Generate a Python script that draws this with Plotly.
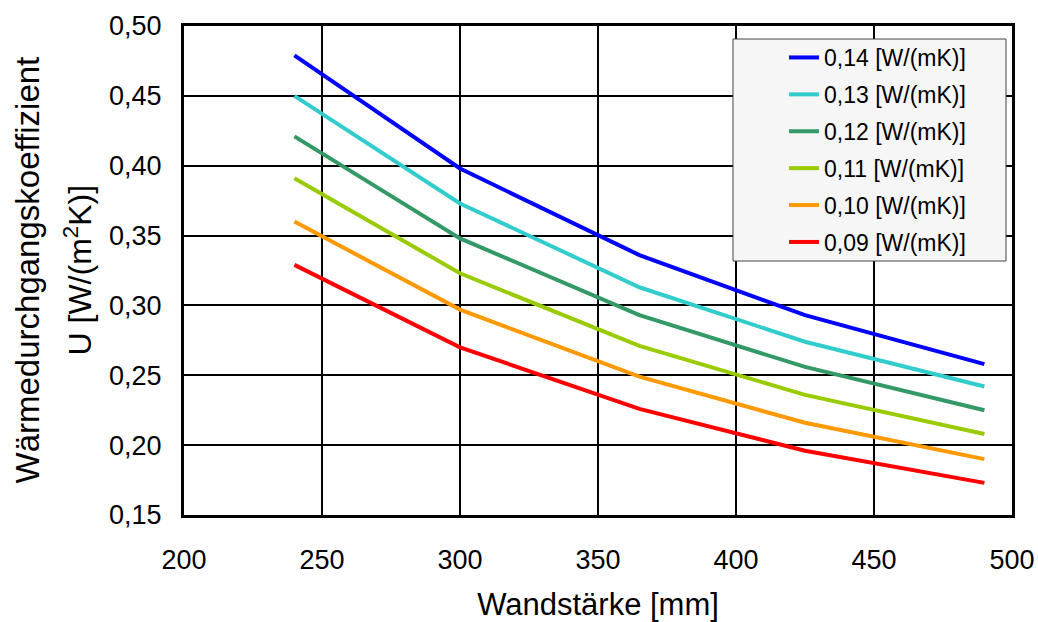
import plotly.graph_objects as go

wandstaerke = [240, 300, 365, 425, 490]
names = ["0,14 [W/(mK)]", "0,13 [W/(mK)]", "0,12 [W/(mK)]",
         "0,11 [W/(mK)]", "0,10 [W/(mK)]", "0,09 [W/(mK)]"]
u_014 = [0.479, 0.398, 0.336, 0.293, 0.258]
u_013 = [0.450, 0.373, 0.313, 0.274, 0.242]
u_012 = [0.421, 0.348, 0.293, 0.256, 0.225]
u_011 = [0.391, 0.323, 0.271, 0.236, 0.208]
u_010 = [0.360, 0.297, 0.249, 0.216, 0.190]
u_009 = [0.329, 0.270, 0.226, 0.196, 0.173]
series = [u_014, u_013, u_012, u_011, u_010, u_009]
colors = ["#0000FF", "#33CCCC", "#339966", "#99CC00", "#FF9900", "#FF0000"]

W, H = 1038, 622
L, R, T, B = 184, 26, 26, 107
pw, ph = W - L - R, H - T - B


def px_x(p):  # page pixel -> paper coordinate
    return (p - L) / pw


def px_y(p):
    return (H - B - p) / ph


fig = go.Figure()
for i, (n, ys, c) in enumerate(zip(names, series, colors)):
    fig.add_trace(go.Scatter(x=wandstaerke, y=ys, name=n, mode="lines",
                             legendgroup=f"g{i}",
                             line=dict(color=c, width=4)))

font = "Liberation Sans, Arial, sans-serif"
fig.update_layout(
    width=W, height=H,
    margin=dict(l=L, r=R, t=T, b=B),
    plot_bgcolor="white", paper_bgcolor="white",
    separators=",.",
    font=dict(family=font, color="black", size=22),
    showlegend=True,
    legend=dict(x=px_x(784), y=px_y(36), xanchor="left", yanchor="top",
                bgcolor="rgba(0,0,0,0)", borderwidth=0,
                font=dict(size=23), tracegroupgap=4),
    shapes=[dict(type="rect", xref="paper", yref="paper",
                 x0=px_x(733), x1=px_x(1006), y0=px_y(261), y1=px_y(39),
                 fillcolor="#f6f6f6", line=dict(color="#444444", width=1),
                 layer="above")],
    annotations=[
        dict(text="Wärmedurchgangskoeffizient", textangle=-90,
             xref="paper", yref="paper", x=px_x(27), y=0.5,
             xanchor="center", yanchor="middle", showarrow=False,
             font=dict(size=33)),
        dict(text="U [W/(m<sup>2</sup>K)]", textangle=-90,
             xref="paper", yref="paper", x=px_x(77), y=0.5,
             xanchor="center", yanchor="middle", showarrow=False,
             font=dict(size=32)),
    ],
    xaxis=dict(range=[200, 500], dtick=50, tick0=200, automargin=False,
               showgrid=True, gridcolor="black", gridwidth=1.5,
               showline=True, linecolor="black", linewidth=3, mirror=True,
               ticks="inside", ticklen=6, tickwidth=2, tickcolor="black",
               tickfont=dict(size=27), ticklabelstandoff=19,
               title=dict(text="Wandstärke [mm]", font=dict(size=31), standoff=26),
               zeroline=False),
    yaxis=dict(range=[0.15, 0.50], dtick=0.05, tick0=0.15, tickformat=".2f",
               automargin=False,
               showgrid=True, gridcolor="black", gridwidth=1.5,
               showline=True, linecolor="black", linewidth=3, mirror=True,
               ticks="inside", ticklen=6, tickwidth=2, tickcolor="black",
               tickfont=dict(size=27), ticklabelstandoff=14,
               zeroline=False),
)
fig.write_html("out.html",
               config={"displayModeBar": False},
               post_script="document.body.style.margin='0';"
                           "document.body.style.overflow='hidden';")
